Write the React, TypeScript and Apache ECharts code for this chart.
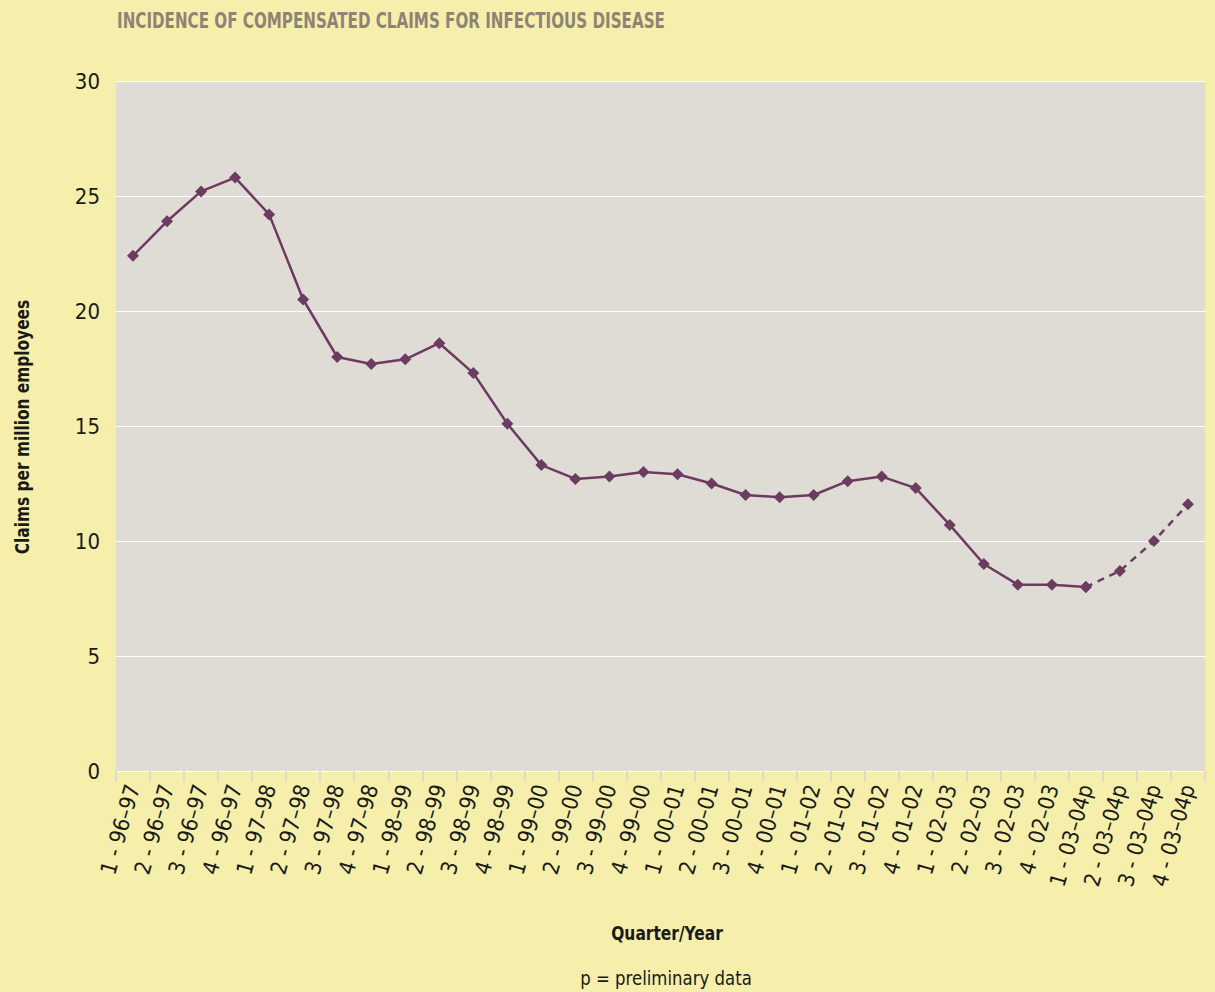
import React, { useEffect, useRef } from "react";
import * as echarts from "echarts";

const categories = [
  "1 - 96–97", "2 - 96–97", "3 - 96–97", "4 - 96–97",
  "1 - 97–98", "2 - 97–98", "3 - 97–98", "4 - 97–98",
  "1 - 98–99", "2 - 98–99", "3 - 98–99", "4 - 98–99",
  "1 - 99–00", "2 - 99–00", "3 - 99–00", "4 - 99–00",
  "1 - 00–01", "2 - 00–01", "3 - 00–01", "4 - 00–01",
  "1 - 01–02", "2 - 01–02", "3 - 01–02", "4 - 01–02",
  "1 - 02–03", "2 - 02–03", "3 - 02–03", "4 - 02–03",
  "1 - 03–04p", "2 - 03–04p", "3 - 03–04p", "4 - 03–04p",
];

const claims = [
  22.4, 23.9, 25.2, 25.8,
  24.2, 20.5, 18.0, 17.7,
  17.9, 18.6, 17.3, 15.1,
  13.3, 12.7, 12.8, 13.0,
  12.9, 12.5, 12.0, 11.9,
  12.0, 12.6, 12.8, 12.3,
  10.7, 9.0, 8.1, 8.1,
  8.0, 8.7, 10.0, 11.6,
];

const preliminaryStart = 28;

const yTicks = { min: 0, max: 30, interval: 5 };

const FONT = "'Liberation Sans Narrow', 'DejaVu Sans Condensed', 'Roboto Condensed', 'Arial Narrow', sans-serif";
const LINE = "#6c3b60";

export default function App() {
  const ref = useRef<HTMLDivElement>(null);
  useEffect(() => {
    if (!ref.current) return;
    const chart = echarts.init(ref.current, undefined, { renderer: "svg" });
    const solid = claims.map((v, i) => (i <= preliminaryStart ? v : null));
    const dashed = claims.map((v, i) => (i >= preliminaryStart ? v : null));
    chart.setOption({
      animation: false,
      backgroundColor: "#f5efab",
      grid: {
        left: 116, right: 10, top: 81, bottom: 221,
        show: true, backgroundColor: "#dfdcd6", borderWidth: 0,
      },
      graphic: [
        {
          type: "text", x: 117, y: 21, scaleX: 0.765,
          style: { text: "INCIDENCE OF COMPENSATED CLAIMS FOR INFECTIOUS DISEASE", fill: "#8d8376", font: `bold 22px ${FONT}`, verticalAlign: "middle" },
        },
        {
          type: "text", x: 22, y: 427, rotation: Math.PI / 2, scaleX: 0.9,
          style: { text: "Claims per million employees", fill: "#1a1a1a", font: `bold 19px ${FONT}`, align: "center", verticalAlign: "middle" },
        },
        {
          type: "text", x: 667, y: 933, scaleX: 0.86,
          style: { text: "Quarter/Year", fill: "#1a1a1a", font: `bold 20px ${FONT}`, align: "center", verticalAlign: "middle" },
        },
        {
          type: "text", x: 666, y: 978, scaleX: 0.92,
          style: { text: "p = preliminary data", fill: "#1a1a1a", font: `20px ${FONT}`, align: "center", verticalAlign: "middle" },
        },
      ],
      xAxis: {
        type: "category",
        data: categories,
        boundaryGap: true,
        axisLine: { show: false },
        axisTick: { show: true, interval: 0, length: 11, lineStyle: { color: "#dedad0", width: 2 } },
        axisLabel: {
          interval: 0, rotate: 74, margin: 14,
          color: "#1a1a1a", fontFamily: FONT, fontSize: 22,
        },
      },
      yAxis: {
        type: "value",
        min: yTicks.min, max: yTicks.max, interval: yTicks.interval,
        axisLine: { show: false },
        axisTick: { show: false },
        splitLine: { lineStyle: { color: "#ffffff", width: 1 } },
        axisLabel: { color: "#1a1a1a", fontFamily: FONT, fontSize: 22, margin: 16 },
      },
      series: [
        {
          type: "line", data: solid, symbol: "diamond", symbolSize: 12,
          lineStyle: { color: LINE, width: 2.5 }, itemStyle: { color: LINE },
        },
        {
          type: "line", data: dashed, symbol: "diamond", symbolSize: 12,
          lineStyle: { color: LINE, width: 2.5, type: [7, 6] }, itemStyle: { color: LINE },
        },
      ],
    });
    return () => chart.dispose();
  }, []);
  return <div ref={ref} style={{ width: 1215, height: 992, position: "absolute", left: 0, top: 0 }} />;
}
